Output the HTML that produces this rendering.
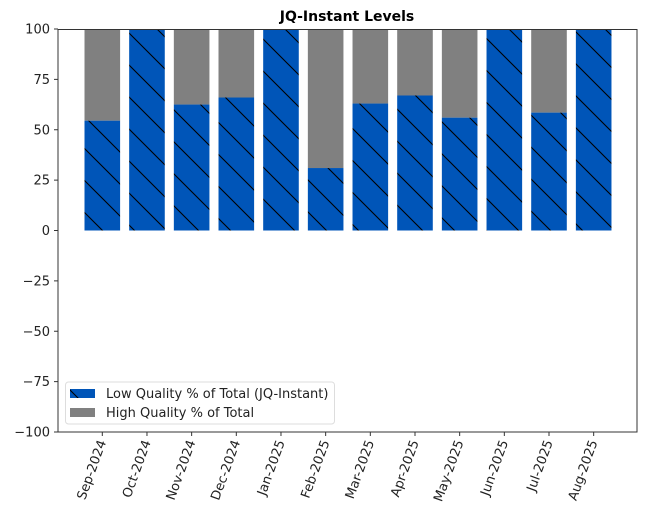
<!DOCTYPE html>
<html><head><meta charset="utf-8"><style>body{margin:0;background:#fff}</style></head><body>
<svg width="646" height="522" xmlns="http://www.w3.org/2000/svg" font-family="'DejaVu Sans','Liberation Sans',sans-serif">
<defs>
<pattern id="h" patternUnits="userSpaceOnUse" width="32" height="32">
<rect width="32" height="32" fill="#0055b8"/>
<path d="M0,0 L32,32 M-8,24 L8,40 M24,-8 L40,8" stroke="#000" stroke-width="1.1"/>
</pattern>
</defs>
<rect x="0" y="0" width="646" height="522" fill="#fff"/>
<text x="347" y="21" text-anchor="middle" font-size="14" font-weight="bold">JQ-Instant Levels</text>
<g id="bars"></g>
<script>
var vals=[54.5,100,62.5,66,100,31,63,67,56,100,58.5,100];
var labs=["Sep-2024","Oct-2024","Nov-2024","Dec-2024","Jan-2025","Feb-2025","Mar-2025","Apr-2025","May-2025","Jun-2025","Jul-2025","Aug-2025"];
var ns="http://www.w3.org/2000/svg",g=document.getElementById("bars");
function Y(v){return 230.5-v*2.015;}
function el(t,a,p){var e=document.createElementNS(ns,t);for(var k in a)e.setAttribute(k,a[k]);(p||g).appendChild(e);return e;}
for(var i=0;i<12;i++){var c=102.3+i*44.67,x=c-17.8;
 el("rect",{x:x,y:Y(100),width:35.6,height:Y(vals[i])-Y(100),fill:"#808080"});
 el("rect",{x:x,y:Y(vals[i]),width:35.6,height:Y(0)-Y(vals[i]),fill:"url(#h)"});
 el("line",{x1:c,y1:432,x2:c,y2:436,stroke:"#333","stroke-width":1});
 var t=el("text",{x:0,y:0,"text-anchor":"end","font-size":"13",fill:"#222",transform:"translate("+(c+4)+",442) rotate(-70)"});t.textContent=labs[i];
}
for(var v=-100;v<=100;v+=25){var y=Y(v);
 el("line",{x1:54,y1:y,x2:58,y2:y,stroke:"#333"});
 var t=el("text",{x:50,y:y+4.5,"text-anchor":"end","font-size":"13",fill:"#222"});t.textContent=(v<0?"\u2212"+(-v):v);}
el("rect",{x:58,y:29.5,width:579,height:402.5,fill:"none",stroke:"#333","stroke-width":1});
el("rect",{x:65.5,y:382,width:269,height:42,fill:"#fff","fill-opacity":0.8,stroke:"#ddd",rx:3});
el("rect",{x:70,y:389,width:25,height:9,fill:"url(#h)"});
el("rect",{x:70,y:408,width:25,height:9,fill:"#808080"});
var t=el("text",{x:106,y:398,"font-size":"13",fill:"#222"});t.textContent="Low Quality % of Total (JQ-Instant)";
t=el("text",{x:106,y:417,"font-size":"13",fill:"#222"});t.textContent="High Quality % of Total";
</script>
</svg>
</body></html>
